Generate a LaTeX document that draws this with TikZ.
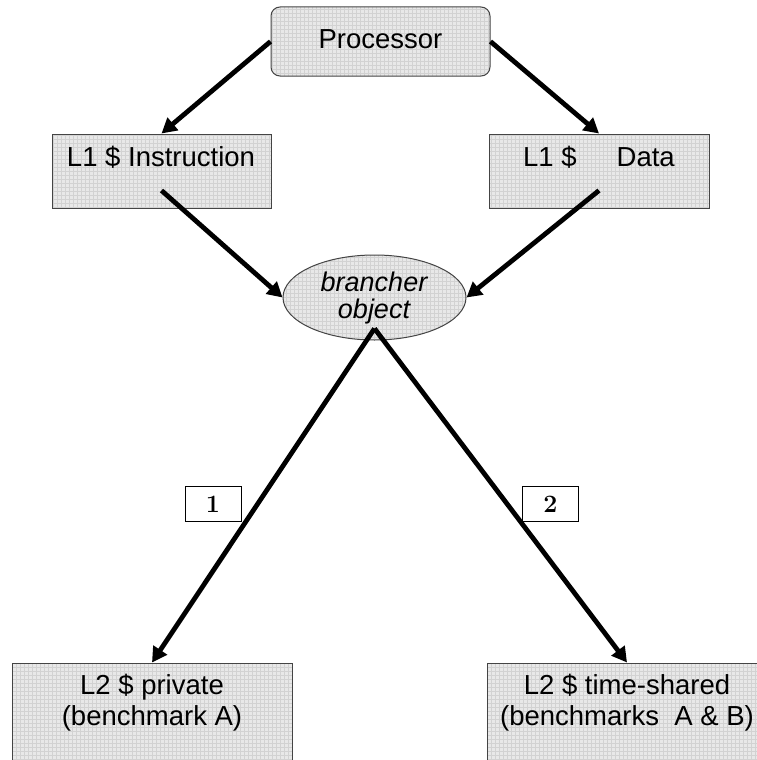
\documentclass[tikz,border=0pt]{standalone}
\usepackage{fontspec}
\newfontfamily\arialf{Liberation Sans}
\usetikzlibrary{arrows.meta,shapes.geometric}
\definecolor{boxfill}{HTML}{E8E8E8}
\definecolor{gridc}{HTML}{D2D2D2}
\definecolor{edgec}{HTML}{444444}
\tikzset{
  gridfill/.style={draw=edgec, line width=1pt, fill=boxfill,
    path picture={\draw[gridc, line width=0.35pt, step=4pt]
      (path picture bounding box.south west) grid (path picture bounding box.north east);}},
  sqbox/.style={gridfill, rectangle, inner sep=0pt},
  rbox/.style={gridfill, rectangle, rounded corners=9pt, inner sep=0pt},
  ebox/.style={gridfill, ellipse, inner sep=0pt},
  lbl/.style={font=\arialf\fontsize{27.5}{31}\selectfont, align=center, inner sep=0pt},
  numbox/.style={draw=black, line width=0.8pt, fill=white, minimum width=56pt, minimum height=35pt,
    font=\fontsize{25}{28}\selectfont\bfseries, inner sep=0pt},
  arr/.style={line width=4.8pt, -{Triangle[length=15pt,width=16pt]}}
}
\begin{document}
\begin{tikzpicture}[x=1pt,y=-1pt]
\useasboundingbox (0,0) rectangle (757,760);
\fill[white] (0,0) rectangle (757,760);
% boxes
\node[rbox, minimum width=219pt, minimum height=69pt] (proc) at (380.5,41.5) {};
\node[lbl] (proct) at (380.5,39) {Processor};
\node[sqbox, minimum width=219pt, minimum height=74pt] (l1i) at (161.5,171) {};
\node[lbl] (l1it) at (161,157) {L1 \$ Instruction};
\node[sqbox, minimum width=220pt, minimum height=74pt] (l1d) at (599,171) {};
\node[lbl] (l1dt) at (599,157) {L1 \$\hspace{40pt}Data};
\node[ebox, minimum width=183pt, minimum height=85pt] (br) at (374.5,297.5) {};
\node[lbl, font=\arialf\itshape\fontsize{27}{27}\selectfont] (brt) at (374,298) {brancher\\object};
\node[sqbox, minimum width=280pt, minimum height=120pt] (l2p) at (152,723) {};
\node[lbl] (l2pt) at (152,703) {L2 \$ private\\(benchmark A)};
\node[sqbox, minimum width=280pt, minimum height=120pt] (l2t) at (627,723) {};
\node[lbl] (l2tt) at (627,703) {L2 \$ time-shared\\(benchmarks\ \ A \& B)};
\node[numbox] (n1) at (213,504) {1};
\node[numbox] (n2) at (550.5,504) {2};
% connectors
\draw[arr] (proc.west) -- (l1i.north);
\draw[arr] (proc.east) -- (l1d.north);
\draw[arr] ([yshift=18pt]l1i.south) -- (br.west);
\draw[arr] ([yshift=18pt]l1d.south) -- (br.east);
\draw[arr] ([yshift=12pt]br.south) -- (l2p.north);
\draw[arr] ([yshift=12pt]br.south) -- (l2t.north);
\end{tikzpicture}
\end{document}
